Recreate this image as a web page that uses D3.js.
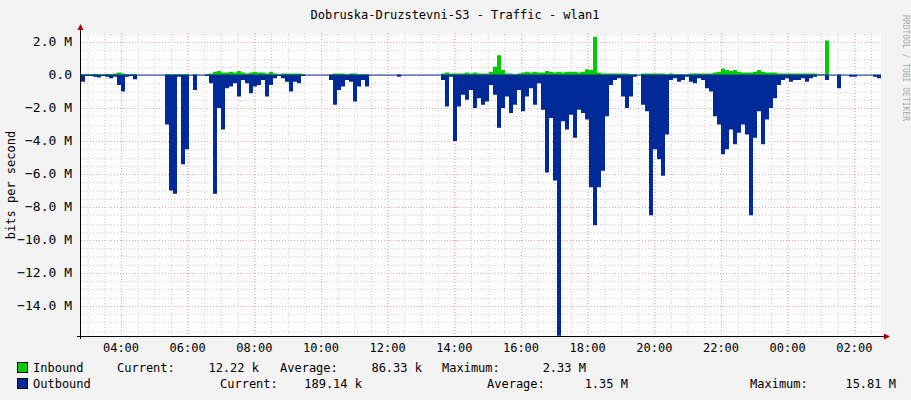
<!DOCTYPE html>
<html><head><meta charset="utf-8">
<script src="https://cdn.jsdelivr.net/npm/d3@7"></script>
<style>body{margin:0;background:#f3f3f3}svg{display:block}text{font-family:"DejaVu Sans Mono",monospace}</style>
</head><body><svg id="c" width="911" height="400"></svg>
<script>
const title = "Dobruska-Druzstevni-S3 - Traffic - wlan1";
const yLabel = "bits per second";
const stepMinutes = 7.2;
const startTime = "2024-01-01T02:48:00";
// Outbound, Mbit/s (drawn negative)
const outbound = [0.4,0.05,0.05,0.1,0.15,0.05,0.1,0.2,0.1,0.6,1.0,0.1,0.05,0.25,0,0,0,0,0,0,0,
3.0,7.0,7.2,0.1,5.4,4.5,0,0.9,0,0,0.05,0.5,7.2,2.0,3.3,0.8,0.7,0.5,1.3,0.3,0.5,1.1,0.7,0.6,0.3,1.3,0.6,0.2,0.05,
0.2,0.4,1.0,0.4,0.5,0.05,0,0,0,0,0,0,0.3,1.8,0.9,0.7,0.3,0.4,1.6,0.7,0.3,0.7,0,0,0,0,0,0,0,0.1,
0,0,0,0,0,0,0,0,0,0,0.3,1.9,0.1,4.0,1.9,1.2,1.5,0.9,2.0,1.4,1.8,1.6,0.6,1.2,3.2,2.0,1.3,2.3,1.8,0.9,
2.2,1.3,0.8,1.8,0.5,2.1,5.9,2.6,6.4,15.8,2.8,3.3,2.4,3.8,2.1,2.3,2.7,6.8,9.1,6.8,5.8,2.5,0.6,0.3,0.2,1.3,2.0,1.3,0.1,0,
1.8,2.2,8.5,4.5,5.1,6.1,3.6,0.3,0.2,0.4,0.3,0.1,0.4,0.5,0.2,0.3,0.8,1.0,2.5,3.0,4.8,4.5,3.3,4.2,3.5,3.0,3.6,8.5,3.8,2.2,
4.2,2.7,2.0,1.4,0.6,0.3,0.2,0.4,0.3,0.3,0.2,0.4,0.2,0.1,0,0,0.3,0,0,0.8,0,0,0.1,0.1,0,0,0,0,0.1,0.2];
// Inbound, Mbit/s
const inbound = [0.05,0.05,0.05,0.08,0.05,0.05,0.08,0.05,0.1,0.15,0.1,0.05,0.05,0.05,0,0,0,0,0,0,0,
0.05,0.05,0.05,0.05,0.05,0.05,0,0.05,0,0,0.05,0.1,0.2,0.25,0.15,0.15,0.2,0.15,0.25,0.15,0.1,0.15,0.2,0.15,0.15,0.1,0.2,0.1,0.05,
0.1,0.1,0.1,0.1,0.1,0.05,0,0,0,0,0,0,0.05,0.1,0.1,0.1,0.05,0.1,0.1,0.05,0.05,0.05,0,0,0,0,0,0,0,0.05,
0,0,0,0,0,0,0,0,0,0,0.1,0.15,0.1,0.1,0.1,0.1,0.15,0.1,0.15,0.1,0.1,0.1,0.2,0.5,1.2,0.3,0.1,0.1,0.05,0.1,
0.15,0.2,0.15,0.2,0.15,0.15,0.25,0.2,0.15,0.2,0.15,0.2,0.2,0.2,0.15,0.2,0.35,0.3,2.33,0.15,0.1,0.1,0.1,0.1,0.1,0.1,0.1,0.05,0.05,0,
0.1,0.1,0.1,0.1,0.1,0.1,0.05,0.1,0.05,0.05,0.05,0.05,0.1,0.1,0.1,0.1,0.1,0.1,0.15,0.2,0.4,0.3,0.25,0.3,0.2,0.15,0.15,0.15,0.2,0.3,
0.2,0.15,0.15,0.15,0.1,0.1,0.1,0.1,0.1,0.1,0.1,0.1,0.1,0.1,0.05,0.05,2.1,0,0,0.05,0,0,0.02,0.02,0,0,0,0,0.02,0.02];
const yTicks = [2,0,-2,-4,-6,-8,-10,-12,-14];
const legendRows = [
  {name:"Inbound", color:"#00cc00", items:[["Current:",117],["12.22 k",259,"end"],["Average:",280],["86.33 k",422,"end"],["Maximum:",442],["2.33 M",586,"end"]]},
  {name:"Outbound", color:"#002a97", items:[["Current:",220],["189.14 k",362,"end"],["Average:",487],["1.35 M",628,"end"],["Maximum:",750],["15.81 M",896,"end"]]}
];

const svg = d3.select("#c");
const L=81,R=881,T=33,B=336;
const t0 = new Date(startTime);
const tAt = i => new Date(t0.getTime()+i*stepMinutes*60000);
const x = d3.scaleTime().domain([t0,tAt(outbound.length)]).range([L,R]);
const y = d3.scaleLinear().domain([-15.82,2.55]).range([B,T]);

svg.append("rect").attr("x",0).attr("y",0).attr("width",911).attr("height",400).attr("fill","#f3f3f3");
svg.append("rect").attr("x",L).attr("y",T).attr("width",R-L).attr("height",B-T).attr("fill","#fff");
const g = svg.append("g");
// minor grids
const minorX = d3.timeMinute.every(30).range(t0,tAt(outbound.length));
g.selectAll(".mx").data(minorX).join("line").attr("x1",d=>x(d)+.5).attr("x2",d=>x(d)+.5).attr("y1",T).attr("y2",B)
 .attr("stroke","#ccc").attr("stroke-dasharray","1,2");
const minorY = d3.range(-15.5,2.6,0.5);
g.selectAll(".my").data(minorY).join("line").attr("x1",L).attr("x2",R).attr("y1",d=>Math.round(y(d))+.5).attr("y2",d=>Math.round(y(d))+.5)
 .attr("stroke","#ccc").attr("stroke-dasharray","1,2");
const majorX = d3.timeHour.every(2).range(t0,tAt(outbound.length));
g.selectAll(".Mx").data(majorX).join("line").attr("x1",d=>x(d)+.5).attr("x2",d=>x(d)+.5).attr("y1",T).attr("y2",B)
 .attr("stroke","#f0a0a0").attr("stroke-dasharray","1,2");
g.selectAll(".My").data(yTicks).join("line").attr("x1",L).attr("x2",R).attr("y1",d=>Math.round(y(d))+.5).attr("y2",d=>Math.round(y(d))+.5)
 .attr("stroke","#f0a0a0").attr("stroke-dasharray","1,2");

const idx = d3.range(outbound.length+1);
const val = (arr,i)=>arr[Math.min(i,arr.length-1)];
const areaOut = d3.area().curve(d3.curveStepAfter).x(i=>x(tAt(i))).y0(y(0)).y1(i=>y(-val(outbound,i)));
const areaIn = d3.area().curve(d3.curveStepAfter).x(i=>x(tAt(i))).y0(y(0)).y1(i=>y(val(inbound,i)));
svg.append("path").attr("d",areaOut(idx)).attr("fill","#002a97");
svg.append("path").attr("d",areaIn(idx)).attr("fill","#00cc00");
svg.append("line").attr("x1",L).attr("x2",R).attr("y1",y(0)).attr("y2",y(0)).attr("stroke","#002a97").attr("stroke-width",1);

// axes lines
svg.append("line").attr("x1",L-0.5).attr("x2",L-0.5).attr("y1",B+3).attr("y2",T-3).attr("stroke","#000");
svg.append("line").attr("x1",L-4).attr("x2",R+3).attr("y1",B+0.5).attr("y2",B+0.5).attr("stroke","#000");
svg.append("path").attr("d",`M${L-3.5},${T-3} L${L+2.5},${T-3} L${L-0.5},${T-9}Z`).attr("fill","#a00");
svg.append("path").attr("d",`M${R+3},${B-2.5} L${R+3},${B+3.5} L${R+9},${B+0.5}Z`).attr("fill","#a00");

const fmtY = d => d===0 ? "0.0" : d3.format(".1f")(d)+" M";
svg.selectAll(".yl").data(yTicks).join("text").attr("x",72).attr("y",d=>y(d)+4).attr("text-anchor","end")
 .attr("font-size",13).attr("fill","#000").text(fmtY);
svg.selectAll(".xl").data(majorX).join("text").attr("x",d=>x(d)).attr("y",352).attr("text-anchor","middle")
 .attr("font-size",12).attr("fill","#000").text(d3.timeFormat("%H:%M"));
svg.append("text").attr("x",455).attr("y",19).attr("text-anchor","middle").attr("font-size",12).attr("fill","#000").text(title);
svg.append("text").attr("transform","translate(15,185) rotate(-90)").attr("text-anchor","middle").attr("font-size",12).text(yLabel);
svg.append("text").attr("transform","translate(903,15) rotate(90)").attr("font-size",8).attr("fill","#aaa").text("RRDTOOL / TOBI OETIKER");

legendRows.forEach((r,k)=>{
  const yy = 372+k*16;
  svg.append("rect").attr("x",17.5).attr("y",yy-9.5).attr("width",10).attr("height",10).attr("fill",r.color).attr("stroke","#000");
  svg.append("text").attr("x",33).attr("y",yy).attr("font-size",12).text(r.name);
  r.items.forEach(([s,xx,a])=>svg.append("text").attr("x",xx).attr("y",yy).attr("font-size",12).attr("text-anchor",a||"start").text(s));
});
</script></body></html>
